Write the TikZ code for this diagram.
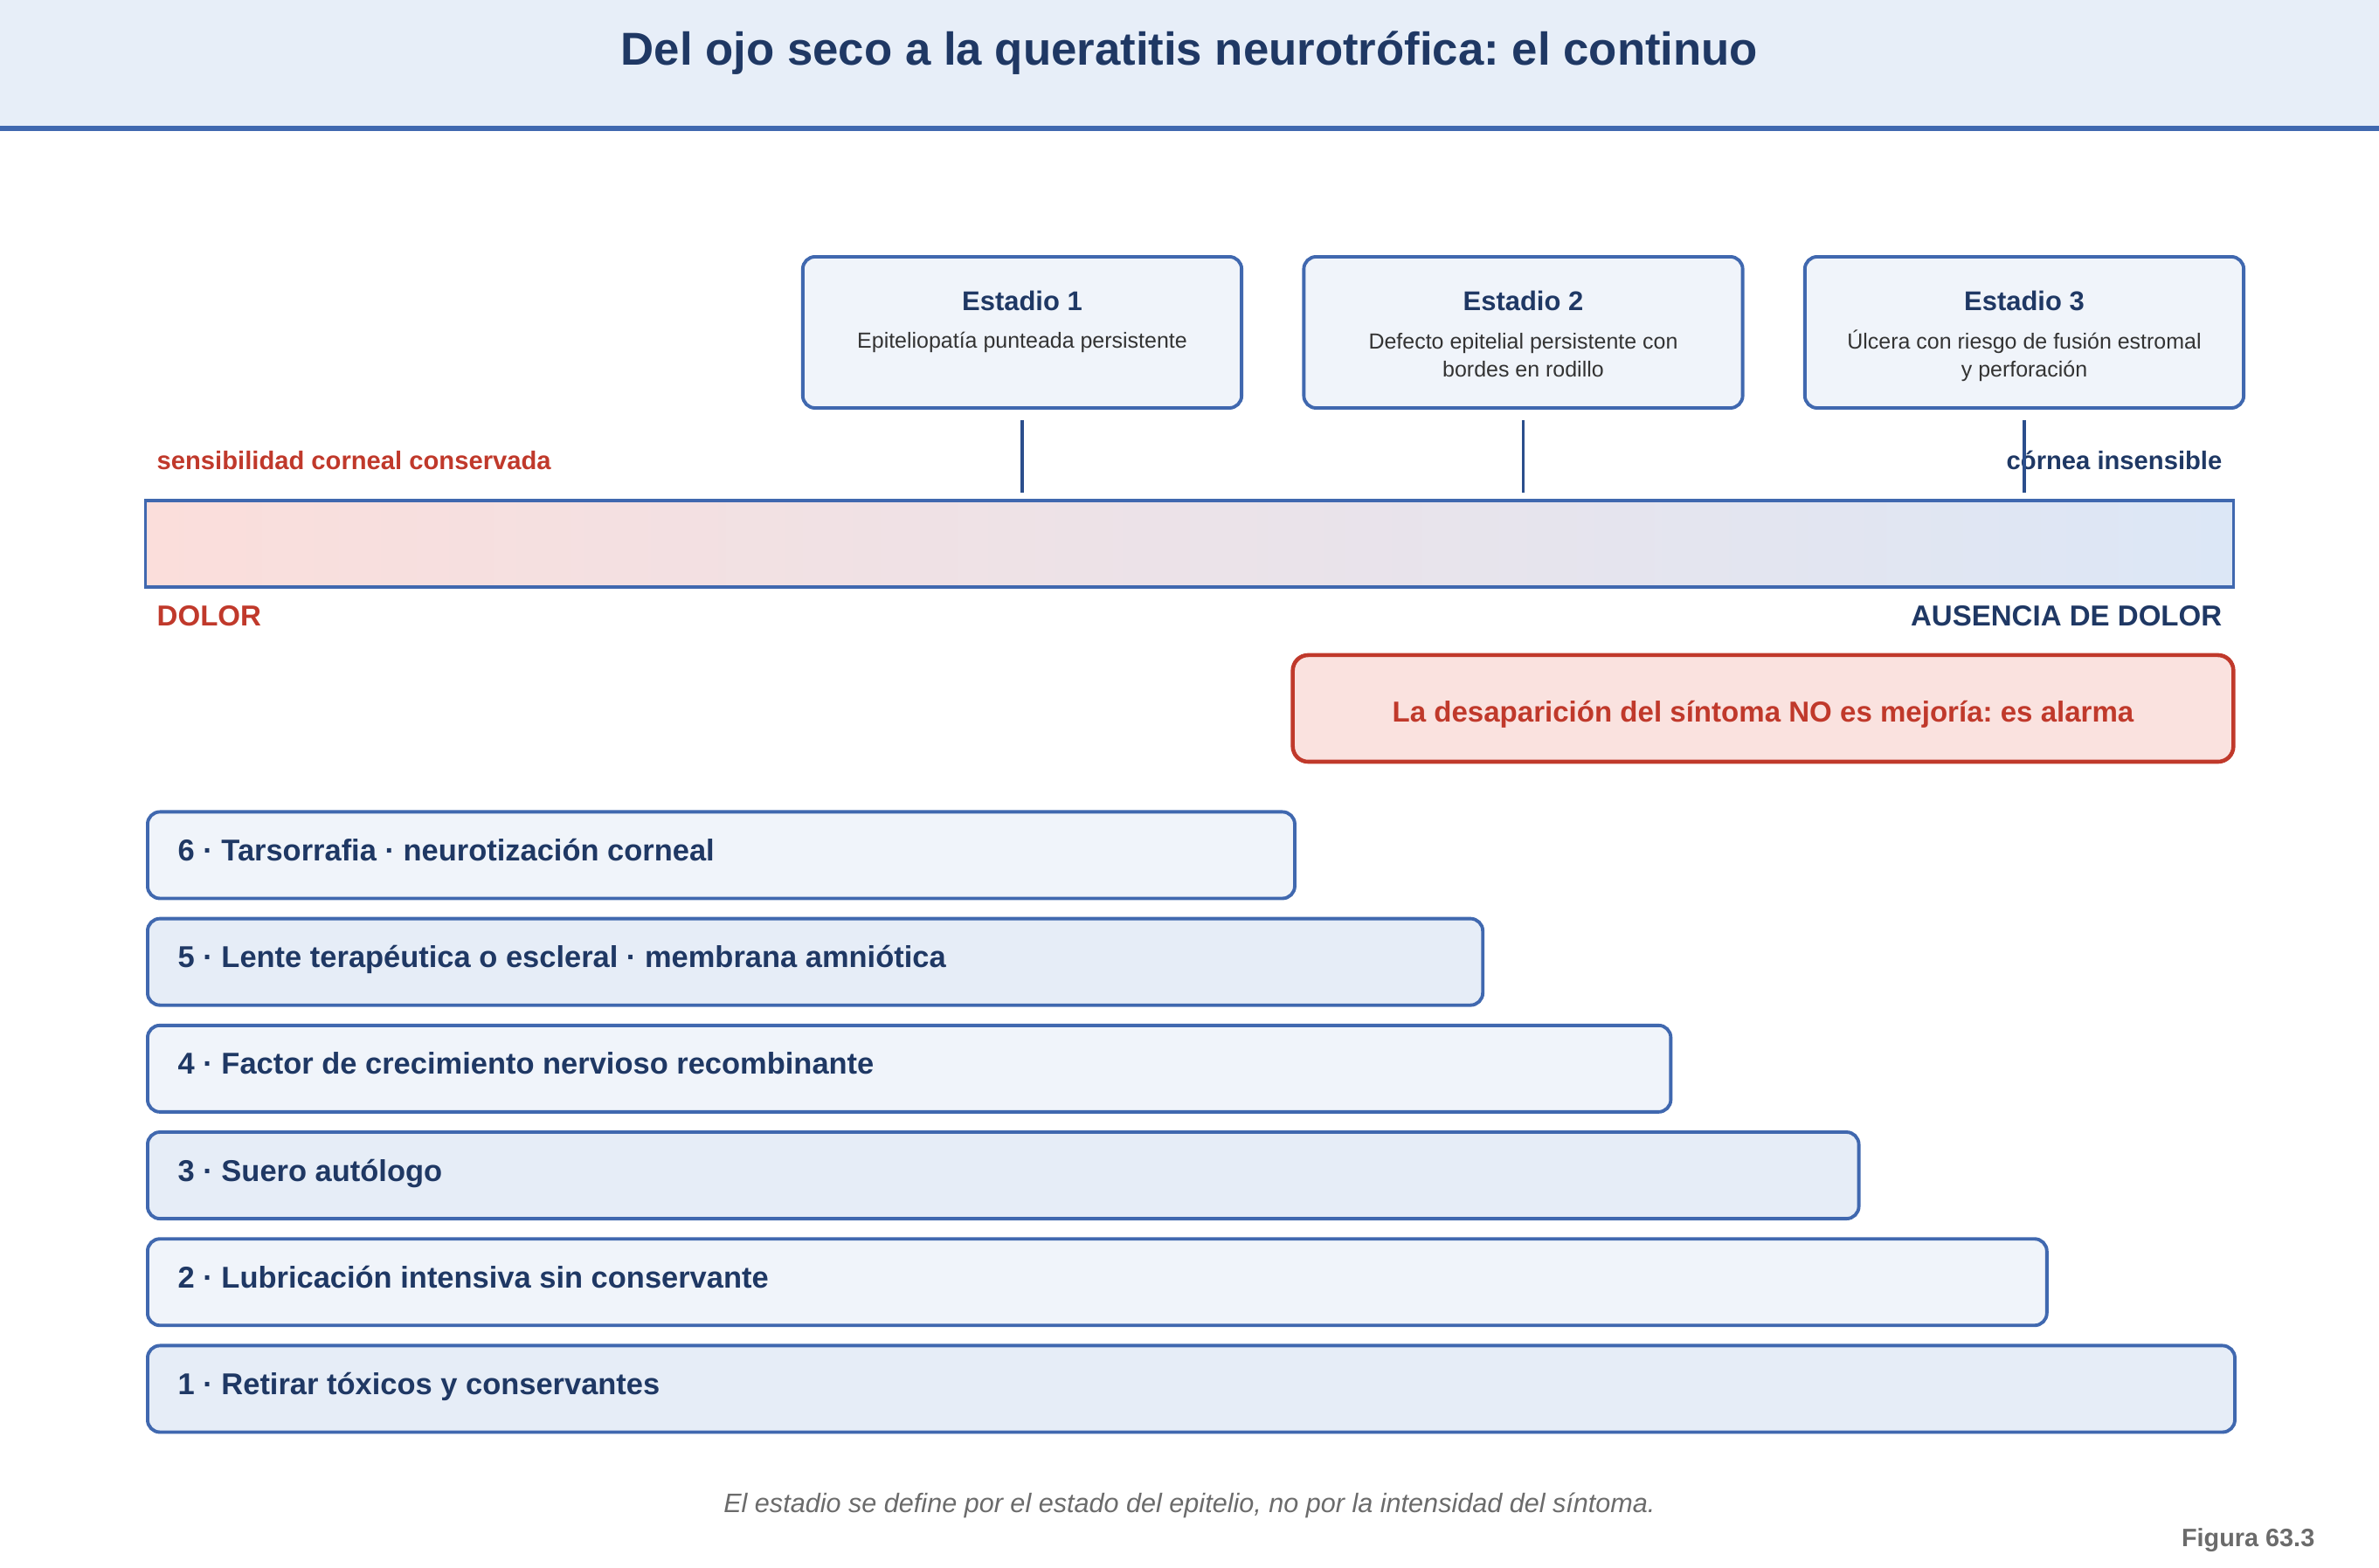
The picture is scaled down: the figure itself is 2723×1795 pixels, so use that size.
\documentclass[tikz,border=0pt]{standalone}
\usepackage{fontspec}
\setmainfont{Liberation Sans}
\usetikzlibrary{positioning, calc}
\frenchspacing

\definecolor{navy}{HTML}{1F3864}
\definecolor{edgeblue}{HTML}{4068AF}
\definecolor{tickblue}{HTML}{2B4E8C}
\definecolor{alarmred}{HTML}{C0392B}
\definecolor{headbg}{HTML}{E7EEF8}
\definecolor{paleblue}{HTML}{F0F4FA}
\definecolor{softblue}{HTML}{E6EDF7}
\definecolor{alarmbg}{HTML}{FAE2DF}
\definecolor{painpink}{HTML}{FBDEDB}
\definecolor{numbblue}{HTML}{DCE7F6}
\definecolor{txtgray}{HTML}{333333}
\definecolor{footgray}{HTML}{6B6B6B}

\tikzset{
  stagebox/.style={draw=edgeblue, line width=1.1pt, fill=paleblue, rounded corners=4pt,
    minimum width=5.02cm, minimum height=1.73cm, inner sep=0pt},
  stagetitle/.style={font=\fontsize{8.8}{10}\selectfont\bfseries, text=navy, inner sep=0pt, anchor=base},
  stagedesc/.style={font=\fontsize{7.1}{9.3}\selectfont, text=txtgray, align=center, inner sep=0pt, anchor=base},
  rowbox/.style={draw=edgeblue, line width=1.1pt, rounded corners=4pt, minimum height=0.99cm,
    inner sep=0pt, anchor=north west},
  rowtext/.style={font=\fontsize{9.8}{12}\selectfont\bfseries, text=navy, inner sep=0pt, anchor=base west},
  sidelabel/.style={font=\fontsize{8.3}{10}\selectfont\bfseries, inner sep=0pt},
  painlabel/.style={font=\fontsize{9.4}{11}\selectfont\bfseries, inner sep=0pt},
  tick/.style={draw=tickblue, line width=1.1pt}
}

\begin{document}
\begin{tikzpicture}[x=0.01cm, y=-0.01cm]
\useasboundingbox (0,0) rectangle (2723,1795);

% Header
\fill[headbg] (0,0) rectangle (2723,145);
\draw[edgeblue, line width=1.7pt] (0,147) -- (2723,147);
\node[font=\fontsize{15}{18}\selectfont\bfseries, text=navy, inner sep=0pt, anchor=base] (titulo)
  at (1361.5,75) {Del ojo seco a la queratitis neurotrófica: el continuo};

% Stages
\node[stagebox] (s1) at (1170,380.5) {};
\node[stagebox] (s2) at (1743.5,380.5) {};
\node[stagebox] (s3) at (2317,380.5) {};
\node[stagetitle] (t1) at (1170,356) {Estadio 1};
\node[stagetitle] (t2) at (1743.5,356) {Estadio 2};
\node[stagetitle] (t3) at (2317,356) {Estadio 3};
% base = last line
\node[stagedesc] (d1) at (1170,399) {Epiteliopatía punteada persistente};
\node[stagedesc] (d2) at (1743.5,432) {Defecto epitelial persistente con\\bordes en rodillo};
\node[stagedesc] (d3) at (2317,432) {Úlcera con riesgo de fusión estromal\\y perforación};

% Gradient bar
\node[draw=edgeblue, line width=1pt, minimum width=23.89cm, minimum height=0.99cm, inner sep=0pt,
  left color=painpink, right color=numbblue, middle color=painpink!50!numbblue] (bar) at (1361.5,622.5) {};

\node[sidelabel, text=alarmred, anchor=base west] (sens) at (179,538) {sensibilidad corneal conservada};
\node[sidelabel, text=navy, anchor=base east] (insens) at (2544,538) {córnea insensible};
\node[painlabel, text=alarmred, anchor=base west] (dolor) at (179,717) {DOLOR};
\node[painlabel, text=navy, anchor=base east] (nodolor) at (2544,717) {AUSENCIA DE DOLOR};

% Ticks from the stages to the bar
\foreach \s in {s1,s2,s3}
  \draw[tick, shorten <=0.12cm, shorten >=0.07cm] (\s.south) -- (\s.south |- bar.north);

% Alarm
\node[draw=alarmred, line width=1.3pt, fill=alarmbg, rounded corners=5pt, minimum width=10.76cm,
  minimum height=1.22cm, inner sep=0pt] (alarma) at (2018,811) {};
\node[painlabel, text=alarmred, anchor=base] (alarmtxt) at (2018,827)
  {La desaparición del síntoma NO es mejoría: es alarma};

% Treatment steps
\foreach \n/\f/\txt in {6/paleblue/{6 · Tarsorrafia · neurotización corneal},
    5/softblue/{5 · Lente terapéutica o escleral · membrana amniótica},
    4/paleblue/{4 · Factor de crecimiento nervioso recombinante},
    3/softblue/{3 · Suero autólogo},
    2/paleblue/{2 · Lubricación intensiva sin conservante},
    1/softblue/{1 · Retirar tóxicos y conservantes}} {
  \pgfmathsetmacro\rtop{927.5+(6-\n)*122.2}
  \pgfmathsetmacro\rwid{(1313+(6-\n)*215.2)*0.01}
  \node[rowbox, fill=\f, minimum width=\rwid cm] (r\n) at (167,\rtop) {};
  \node[rowtext] (l\n) at ($(r\n.north west)+(36,58)$) {\txt};
}

% Footer
\node[font=\fontsize{8.7}{10}\selectfont\itshape, text=footgray, inner sep=0pt, anchor=base] (nota)
  at (1361.5,1731) {El estadio se define por el estado del epitelio, no por la intensidad del síntoma.};
\node[font=\fontsize{8.2}{10}\selectfont\bfseries, text=footgray, inner sep=0pt, anchor=base east] (fig)
  at (2650,1770) {Figura 63.3};
\end{tikzpicture}
\end{document}
